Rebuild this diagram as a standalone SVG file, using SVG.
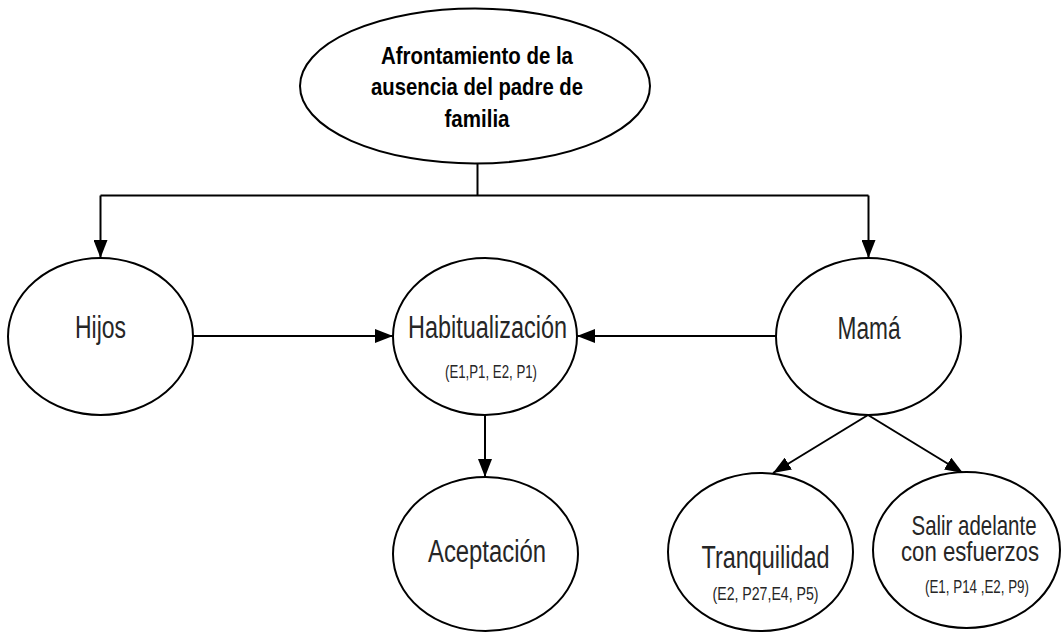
<svg xmlns="http://www.w3.org/2000/svg" width="1061" height="633" viewBox="0 0 1061 633">
<style>
.node ellipse{fill:#fff;stroke:#000;stroke-width:2}
.lbl{font-family:"Liberation Sans",Arial,sans-serif;font-size:31px;fill:#262626;text-anchor:middle}
.lbl2{font-family:"Liberation Sans",Arial,sans-serif;font-size:28px;fill:#262626;text-anchor:middle}
.sub{font-family:"Liberation Sans",Arial,sans-serif;font-size:18px;fill:#262626;text-anchor:middle}
.ttl{font-family:"Liberation Sans",Arial,sans-serif;font-size:24px;font-weight:bold;fill:#000;text-anchor:middle}
.edges path{stroke:#000;stroke-width:2;fill:none}
</style>
<defs>
<marker id="arr" viewBox="0 0 18 14" refX="18" refY="7" markerWidth="18" markerHeight="14" markerUnits="userSpaceOnUse" orient="auto">
<path d="M0,0 L18,7 L0,14 z" fill="#000"/>
</marker>
</defs>
<rect width="1061" height="633" fill="#fff"/>
<g class="edges">
<path d="M477.5,163.5 V195.5"/>
<path d="M100.5,195.5 H868.5"/>
<path d="M100.5,195.5 V258" marker-end="url(#arr)"/>
<path d="M868.5,195.5 V258" marker-end="url(#arr)"/>
<path d="M193,336 H393" marker-end="url(#arr)"/>
<path d="M776,336 H577" marker-end="url(#arr)"/>
<path d="M485,415 V477" marker-end="url(#arr)"/>
<path d="M868,415 L773,473" marker-end="url(#arr)"/>
<path d="M868,415 L963,473" marker-end="url(#arr)"/>
</g>
<g id="n-afrontamiento" class="node">
<ellipse cx="475" cy="86" rx="175" ry="77.5"/>
<text class="ttl" x="477" y="64" textLength="192" lengthAdjust="spacingAndGlyphs">Afrontamiento de la</text>
<text class="ttl" x="477" y="95" textLength="212" lengthAdjust="spacingAndGlyphs">ausencia del padre de</text>
<text class="ttl" x="477" y="126.5" textLength="65" lengthAdjust="spacingAndGlyphs">familia</text>
</g>
<g id="n-hijos" class="node">
<ellipse cx="100.5" cy="336.5" rx="92.5" ry="78.5"/>
<text class="lbl" x="100.5" y="338" textLength="51" lengthAdjust="spacingAndGlyphs">Hijos</text>
</g>
<g id="n-habitualizacion" class="node">
<ellipse cx="485" cy="336.5" rx="92" ry="78.5"/>
<text class="lbl" x="487.5" y="338" textLength="159" lengthAdjust="spacingAndGlyphs">Habitualización</text>
<text class="sub" x="491" y="378" textLength="92" lengthAdjust="spacingAndGlyphs">(E1,P1, E2, P1)</text>
</g>
<g id="n-mama" class="node">
<ellipse cx="868.5" cy="336.5" rx="92.5" ry="78.5"/>
<text class="lbl" x="869" y="339" textLength="63" lengthAdjust="spacingAndGlyphs">Mamá</text>
</g>
<g id="n-aceptacion" class="node">
<ellipse cx="485.5" cy="554" rx="92.5" ry="77"/>
<text class="lbl" x="487" y="561.5" textLength="118" lengthAdjust="spacingAndGlyphs">Aceptación</text>
</g>
<g id="n-tranquilidad" class="node">
<ellipse cx="760.5" cy="552" rx="92.5" ry="79"/>
<text class="lbl" x="765.5" y="568" textLength="128" lengthAdjust="spacingAndGlyphs">Tranquilidad</text>
<text class="sub" x="765.5" y="600" textLength="106" lengthAdjust="spacingAndGlyphs">(E2, P27,E4, P5)</text>
</g>
<g id="n-salir" class="node">
<ellipse cx="966.5" cy="550" rx="93.5" ry="78"/>
<text class="lbl2" x="974" y="535" textLength="125" lengthAdjust="spacingAndGlyphs">Salir adelante</text>
<text class="lbl2" x="970" y="561" textLength="138" lengthAdjust="spacingAndGlyphs">con esfuerzos</text>
<text class="sub" x="977" y="593" textLength="104" lengthAdjust="spacingAndGlyphs">(E1, P14 ,E2, P9)</text>
</g>
</svg>
